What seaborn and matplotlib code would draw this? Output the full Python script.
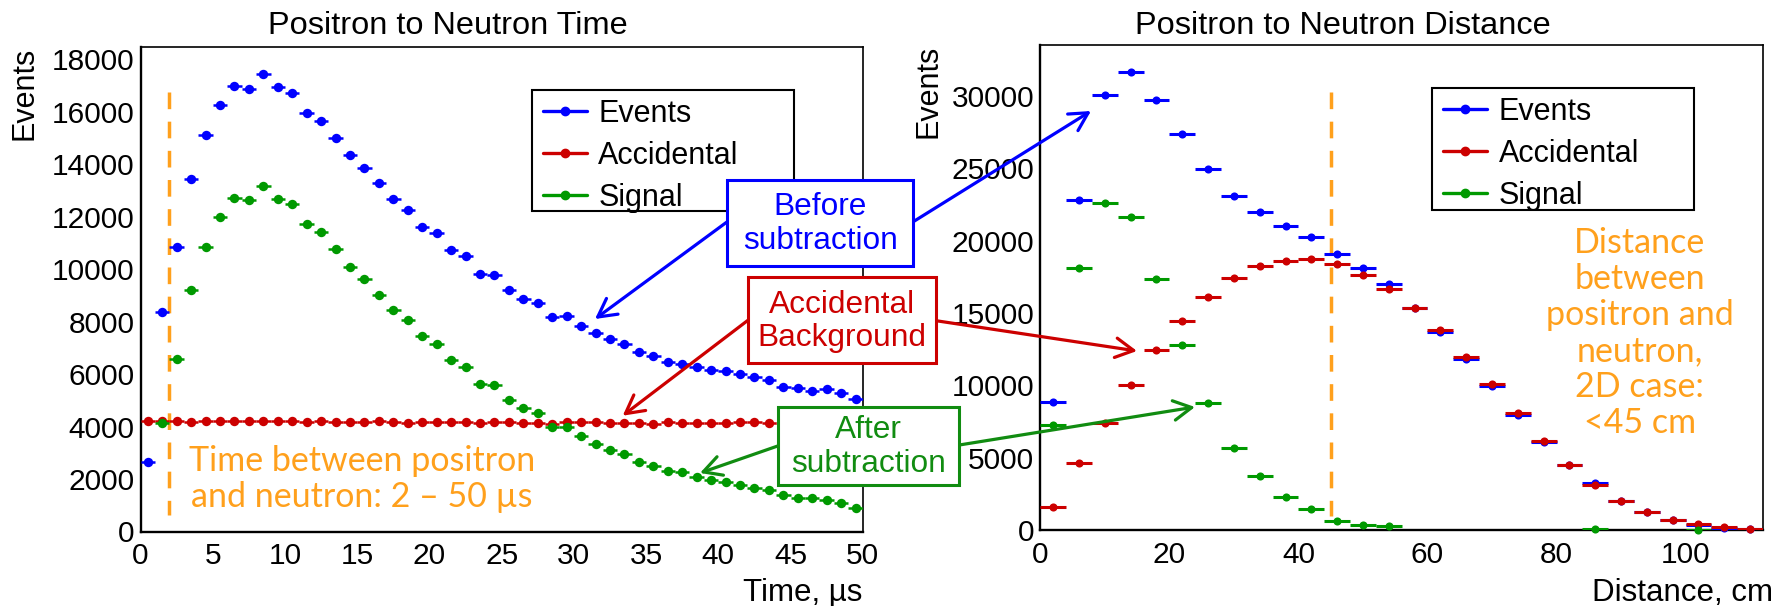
import numpy as np
import pandas as pd
import matplotlib
matplotlib.use("Agg")
import matplotlib.pyplot as plt
import seaborn as sns
from matplotlib.patches import Rectangle, FancyArrowPatch
from matplotlib.lines import Line2D
from matplotlib.ticker import MultipleLocator

# ---------------- data ----------------
time_centers = np.arange(0.5, 50.0, 1.0)          # 1 us bins, 0-50 us
time_events = [2640, 8350, 10850, 13430, 15120, 16255, 16985, 16855, 17435, 16945,
               16700, 15935, 15655, 15005, 14325, 13840, 13260, 12670, 12265, 11618,
               11385, 10737, 10487, 9805, 9764, 9204, 8850, 8720, 8155, 8208,
               7833, 7554, 7321, 7145, 6831, 6667, 6450, 6373, 6250, 6155,
               6100, 5992, 5876, 5773, 5514, 5460, 5371, 5412, 5289, 5043]
time_accidental = [4220, 4210, 4220, 4160, 4220, 4220, 4200, 4220, 4200, 4220,
                   4200, 4170, 4200, 4170, 4170, 4170, 4220, 4170, 4130, 4160,
                   4160, 4160, 4160, 4120, 4160, 4160, 4120, 4120, 4100, 4160,
                   4160, 4160, 4120, 4120, 4120, 4100, 4160, 4120, 4120, 4120,
                   4120, 4160, 4160, 4120, 4130, 4120, 4130, 4140, 4120, 4130]
time_signal = [-1580, 4140, 6570, 9205, 10855, 11980, 12715, 12620, 13153, 12668,
               12470, 11708, 11420, 10766, 10084, 9606, 9000, 8440, 8070, 7445,
               7150, 6530, 6258, 5624, 5575, 5009, 4715, 4525, 3985, 3965,
               3639, 3324, 3120, 2962, 2648, 2500, 2289, 2248, 2076, 1953,
               1892, 1762, 1673, 1591, 1373, 1258, 1258, 1217, 1094, 896]

dist_centers = np.arange(2.0, 112.0, 4.0)          # 4 cm bins, 0-112 cm
dist_events = [8840, 22810, 30050, 31660, 29750, 27340, 24940, 23095, 22005, 20980,
               20250, 19090, 18085, 16985, 15335, 13680, 11810, 9990, 7990, 6065,
               4540, 3260, 2030, 1255, 695, 375, 185, 80]
dist_accidental = [1630, 4620, 7430, 10020, 12420, 14485, 16095, 17418, 18270, 18580,
                   18730, 18356, 17630, 16690, 15360, 13810, 11940, 10125, 8120, 6200,
                   4540, 3155, 2030, 1230, 720, 425, 240, 105]
dist_signal = [7240, 18135, 22600, 21635, 17345, 12825, 8790, 5715, 3740, 2270,
               1470, 670, 375, 295, -25, -130, -130, -135, -130, -135,
               -5, 60, -5, -20, -25, 15, -55, -25]

series_names = ["Events", "Accidental", "Signal"]
time_cut = 2      # us
dist_cut = 45     # cm

# ---------------- style ----------------
BLUE, RED, GREEN = "#0000FF", "#CC0000", "#009900"
BOX_GREEN = "#118C11"
ORANGE = "#FFA01C"
W, H = 1791, 606

sns.set_theme(style="white")
plt.rcParams["font.family"] = ["Liberation Sans", "DejaVu Sans"]
plt.rcParams["axes.edgecolor"] = "black"
plt.rcParams["axes.labelcolor"] = "black"
plt.rcParams["text.color"] = "black"
plt.rcParams["xtick.color"] = "black"
plt.rcParams["ytick.color"] = "black"


def fx(px):
    return px / W


def fy(py):
    return 1 - py / H


fig = plt.figure(figsize=(W / 100, H / 100), dpi=100)
fig.patch.set_facecolor("white")
axL = fig.add_axes([fx(140.6), fy(531.5), (862.8 - 140.6) / W, (531.5 - 47.2) / H])
axR = fig.add_axes([fx(1040.3), fy(530.3), (1763.0 - 1040.3) / W, (530.3 - 45.2) / H])


def draw_series(ax, x, y, half, color, s, elw, z):
    x = np.asarray(x, float)
    y = np.asarray(y, float)
    keep = y >= 0
    df = pd.DataFrame({"x": x[keep], "y": y[keep]})
    ax.errorbar(df["x"], df["y"], xerr=half, fmt="none", ecolor=color,
                elinewidth=elw, capsize=0, zorder=z)
    sns.scatterplot(data=df, x="x", y="y", ax=ax, color=color, s=s,
                    linewidth=0, zorder=z + 0.1, clip_on=False, legend=False)


colors = [BLUE, RED, GREEN]
for i, (vals, c) in enumerate(zip([time_events, time_accidental, time_signal], colors)):
    draw_series(axL, time_centers, vals, 0.5, c, 46, 1.8, 3 + i)
for i, (vals, c) in enumerate(zip([dist_events, dist_accidental, dist_signal], colors)):
    draw_series(axR, dist_centers, vals, 2.0, c, 34, 2.2, 3 + i)

# dashed cut lines
axL.plot([time_cut, time_cut], [16760, 630], color=ORANGE, lw=2.5,
         dashes=(4.8, 3.6), zorder=2)
axR.plot([dist_cut, dist_cut], [30300, 990], color=ORANGE, lw=2.5,
         dashes=(4.8, 3.6), zorder=2)


def style_axes(ax, xlim, ylim, xmaj, xmin, ymaj, ymin, xlabel, xlab_xy, ylab_x):
    ax.set_xlim(*xlim)
    ax.set_ylim(*ylim)
    ax.xaxis.set_major_locator(MultipleLocator(xmaj))
    ax.xaxis.set_minor_locator(MultipleLocator(xmin))
    ax.yaxis.set_major_locator(MultipleLocator(ymaj))
    ax.yaxis.set_minor_locator(MultipleLocator(ymin))
    ax.tick_params(axis="both", which="both", direction="in", top=False,
                   right=False, labelsize=21.5, width=1.1, colors="black")
    ax.tick_params(axis="y", which="major", length=15, pad=4.5)
    ax.tick_params(axis="y", which="minor", length=8)
    ax.tick_params(axis="x", which="major", length=11, pad=7.5)
    ax.tick_params(axis="x", which="minor", length=5.4)
    for s in ["left", "bottom"]:
        ax.spines[s].set_linewidth(1.7)
    for s in ["top", "right"]:
        ax.spines[s].set_linewidth(1.2)
    for s in ax.spines.values():
        s.set_color("black")
    ax.set_facecolor("white")
    ax.grid(False)
    ax.set_xlabel(xlabel, fontsize=22.5, loc="right")
    ax.xaxis.set_label_coords(*xlab_xy)
    ax.set_ylabel("Events", fontsize=22, loc="top")
    ax.yaxis.set_label_coords(ylab_x, 1.0)


style_axes(axL, (0, 50), (0, 18450), 5, 1, 2000, 500, "Time, \u00b5s", (1.0, -0.096), -0.14)
style_axes(axR, (0, 112), (0, 33500), 20, 5, 5000, 1000, "Distance, cm", (1.0138, -0.0983), -0.134)

# titles
fig.text(0.25, fy(34), "Positron to Neutron Time", ha="center", va="baseline", fontsize=23.4)
fig.text(0.75, fy(34), "Positron to Neutron Distance", ha="center", va="baseline", fontsize=23.4)

# legends (frame drawn separately)
handles = [Line2D([0], [0], color=c, lw=2.4, marker="o", ms=6) for c in colors]
for ax, (l, t, r, b), (hx, hy) in [
        (axL, (532, 89.7, 794, 211.4), (542.5, 98.6)),
        (axR, (1432, 87.7, 1694, 210.0), (1442.6, 96.6))]:
    fig.add_artist(Rectangle((fx(l), fy(b)), (r - l) / W, (b - t) / H,
                             transform=fig.transFigure, facecolor="white",
                             edgecolor="black", lw=1.5, zorder=4))
    leg = ax.legend(handles, series_names, loc="upper left",
                    bbox_to_anchor=(fx(hx), fy(hy)), bbox_transform=fig.transFigure,
                    borderpad=0, borderaxespad=0, frameon=False, fontsize=22,
                    handlelength=1.44, handletextpad=0.39, labelspacing=0.4)
    leg.set_zorder(4.5)
    fig.add_artist(leg)

# orange notes
fig.text(fx(362), fy(479), "Time between positron\nand neutron: 2 \u2013 50 \u00b5s",
         ha="center", va="center", multialignment="center", color=ORANGE,
         fontsize=24.5, family=["Lato", "DejaVu Sans"], linespacing=1.15, zorder=6)
fig.text(fx(1639.6), fy(333), "Distance\nbetween\npositron and\nneutron,\n2D case:\n<45 cm",
         ha="center", va="center", multialignment="center", color=ORANGE,
         fontsize=24.5, family=["Lato", "DejaVu Sans"], linespacing=1.15, zorder=6)

# annotation boxes with arrows
boxes = [("Before\nsubtraction", BLUE, (727.3, 180, 913.3, 266)),
         ("Accidental\nBackground", RED, (748.3, 277.3, 936, 363.3)),
         ("After\nsubtraction", BOX_GREEN, (777.7, 406.7, 959.3, 485))]
arrows = [(BLUE, (727.3, 221.7), (595, 319)), (BLUE, (913.3, 221.7), (1091, 111)),
          (RED, (748.3, 320), (622.7, 415.7)), (RED, (936, 320.7), (1137, 351)),
          (BOX_GREEN, (777.7, 446), (700, 473)), (BOX_GREEN, (959.3, 445), (1195, 407))]
for c, (x0, y0), (x1, y1) in arrows:
    fig.add_artist(FancyArrowPatch((fx(x0), fy(y0)), (fx(x1), fy(y1)),
                                   transform=fig.transFigure,
                                   arrowstyle="->,head_length=0.5,head_width=0.27",
                                   mutation_scale=26, color=c, lw=2.3,
                                   shrinkA=0, shrinkB=0, zorder=7))
for txt, c, (l, t, r, b) in boxes:
    fig.add_artist(Rectangle((fx(l), fy(b)), (r - l) / W, (b - t) / H,
                             transform=fig.transFigure, facecolor="white",
                             edgecolor=c, lw=2.2, zorder=8))
    fig.text(fx((l + r) / 2), fy((t + b) / 2 + 1), txt, ha="center", va="center",
             multialignment="center", color=c, fontsize=22.8, linespacing=1.15, zorder=9)

fig.savefig("out.png", dpi=100, facecolor="white")
